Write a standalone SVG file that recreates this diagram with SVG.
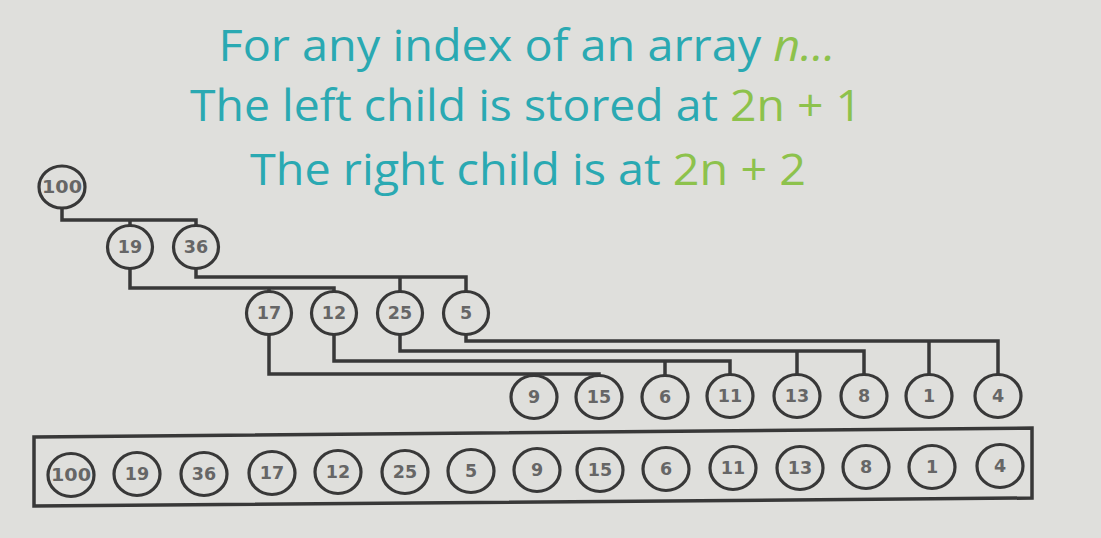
<svg xmlns="http://www.w3.org/2000/svg" width="1101" height="538" viewBox="0 0 1101 538">
<style>
.t{font-family:"Open Sans","Liberation Sans",sans-serif;font-size:43px;fill:#2aa9b2;text-anchor:middle}
.g{fill:#8dc24c}
.n ellipse{fill:none;stroke:#383838;stroke-width:3.2}
.n text{font-family:"DejaVu Sans","Liberation Sans",sans-serif;font-size:17.5px;font-weight:bold;fill:#666;text-anchor:middle;dominant-baseline:central}
.c path{fill:none;stroke:#383838;stroke-width:3.5}
</style>
<rect width="1101" height="538" fill="#dfdfdc"/>
<g id="title">
<text class="t" x="527" y="61" textLength="617" lengthAdjust="spacingAndGlyphs">For any index of an array <tspan class="g" font-style="italic">n...</tspan></text>
<text class="t" x="526" y="121" textLength="672" lengthAdjust="spacingAndGlyphs">The left child is stored at <tspan class="g">2n + 1</tspan></text>
<text class="t" x="528" y="185" textLength="556" lengthAdjust="spacingAndGlyphs">The right child is at <tspan class="g">2n + 2</tspan></text>
</g>
<g class="c" id="connectors">
<path d="M62,207 V220 H196 V226 M130,220 V226"/>
<path d="M130,268 V288 H334 V292 M269,288 V292"/>
<path d="M196,268 V277 H466 V292 M400,277 V292"/>
<path d="M269,335 V374 H599 V376 M534,374 V376"/>
<path d="M334,335 V361 H730 V375 M665,361 V375"/>
<path d="M400,335 V351 H864 V375 M797,351 V375"/>
<path d="M466,335 V341 H998 V375 M929,341 V375"/>
</g>
<g class="n" id="t100"><ellipse cx="62" cy="187" rx="23" ry="21"/><text x="62" y="187" textLength="40" lengthAdjust="spacingAndGlyphs">100</text></g>
<g class="n" id="t19"><ellipse cx="130" cy="247" rx="22.5" ry="21.5"/><text x="130" y="247">19</text></g>
<g class="n" id="t36"><ellipse cx="196" cy="247" rx="22.5" ry="21.5"/><text x="196" y="247">36</text></g>
<g class="n" id="t17"><ellipse cx="269" cy="313" rx="22.5" ry="21.5"/><text x="269" y="313">17</text></g>
<g class="n" id="t12"><ellipse cx="334" cy="313" rx="22.5" ry="21.5"/><text x="334" y="313">12</text></g>
<g class="n" id="t25"><ellipse cx="400" cy="313" rx="22.5" ry="21.5"/><text x="400" y="313">25</text></g>
<g class="n" id="t5"><ellipse cx="466" cy="313" rx="22.5" ry="21.5"/><text x="466" y="313">5</text></g>
<g class="n" id="t9"><ellipse cx="534" cy="397" rx="23" ry="21.5"/><text x="534" y="397">9</text></g>
<g class="n" id="t15"><ellipse cx="599" cy="397" rx="23" ry="21.5"/><text x="599" y="397">15</text></g>
<g class="n" id="t6"><ellipse cx="665" cy="397" rx="23" ry="21.5"/><text x="665" y="397">6</text></g>
<g class="n" id="t11"><ellipse cx="730" cy="396" rx="23" ry="21.5"/><text x="730" y="396">11</text></g>
<g class="n" id="t13"><ellipse cx="797" cy="396" rx="23" ry="21.5"/><text x="797" y="396">13</text></g>
<g class="n" id="t8"><ellipse cx="864" cy="396" rx="23" ry="21.5"/><text x="864" y="396">8</text></g>
<g class="n" id="t1"><ellipse cx="929" cy="396" rx="23" ry="21.5"/><text x="929" y="396">1</text></g>
<g class="n" id="t4"><ellipse cx="998" cy="396" rx="23" ry="21.5"/><text x="998" y="396">4</text></g>
<g id="array">
<path d="M34,437 L1032,428 L1032,498 L34,506 Z" fill="none" stroke="#383838" stroke-width="3.5"/>
<g class="n" id="a100"><ellipse cx="71" cy="475" rx="23" ry="21.5"/><text x="71" y="475" textLength="40" lengthAdjust="spacingAndGlyphs">100</text></g>
<g class="n" id="a19"><ellipse cx="137" cy="474" rx="23" ry="21.5"/><text x="137" y="474">19</text></g>
<g class="n" id="a36"><ellipse cx="204" cy="474" rx="23" ry="21.5"/><text x="204" y="474">36</text></g>
<g class="n" id="a17"><ellipse cx="272" cy="473" rx="23" ry="21.5"/><text x="272" y="473">17</text></g>
<g class="n" id="a12"><ellipse cx="338" cy="472" rx="23" ry="21.5"/><text x="338" y="472">12</text></g>
<g class="n" id="a25"><ellipse cx="405" cy="472" rx="23" ry="21.5"/><text x="405" y="472">25</text></g>
<g class="n" id="a5"><ellipse cx="471" cy="471" rx="23" ry="21.5"/><text x="471" y="471">5</text></g>
<g class="n" id="a9"><ellipse cx="537" cy="470" rx="23" ry="21.5"/><text x="537" y="470">9</text></g>
<g class="n" id="a15"><ellipse cx="600" cy="470" rx="23" ry="21.5"/><text x="600" y="470">15</text></g>
<g class="n" id="a6"><ellipse cx="666" cy="469" rx="23" ry="21.5"/><text x="666" y="469">6</text></g>
<g class="n" id="a11"><ellipse cx="733" cy="468" rx="23" ry="21.5"/><text x="733" y="468">11</text></g>
<g class="n" id="a13"><ellipse cx="800" cy="468" rx="23" ry="21.5"/><text x="800" y="468">13</text></g>
<g class="n" id="a8"><ellipse cx="866" cy="467" rx="23" ry="21.5"/><text x="866" y="467">8</text></g>
<g class="n" id="a1"><ellipse cx="932" cy="467" rx="23" ry="21.5"/><text x="932" y="467">1</text></g>
<g class="n" id="a4"><ellipse cx="1000" cy="466" rx="23" ry="21.5"/><text x="1000" y="466">4</text></g>
</g>
</svg>
